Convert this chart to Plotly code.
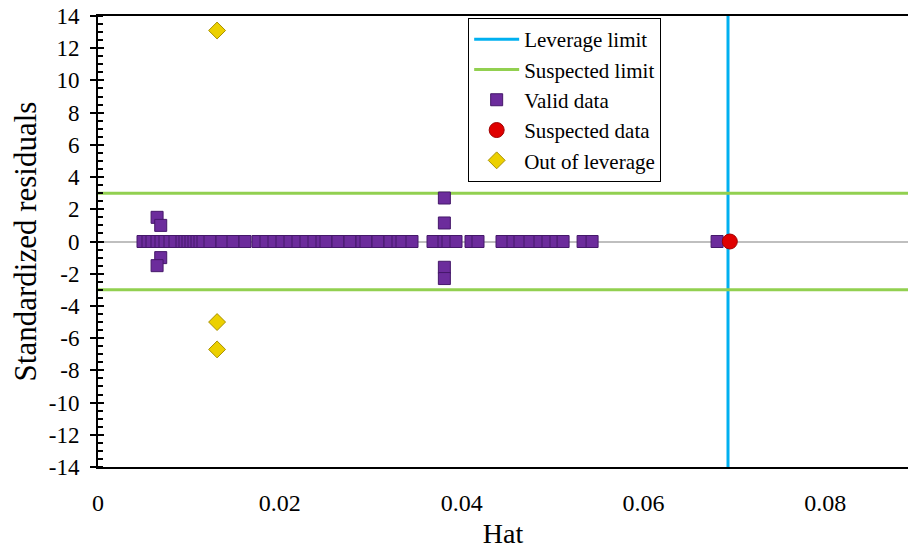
import plotly.graph_objects as go

# ---- data ----
leverage_limit = 0.0693
suspected_limit = 3.0

valid_hat = [0.00495, 0.0055, 0.00594, 0.00649, 0.00693, 0.00737, 0.00792, 0.00847,
             0.00924, 0.00957, 0.0099, 0.01023, 0.01056, 0.01089, 0.01122, 0.01155,
             0.01232, 0.01364, 0.01485, 0.01617, 0.0176, 0.01848, 0.01936, 0.02024,
             0.02112, 0.022, 0.02288, 0.02376, 0.02464, 0.02508, 0.0264, 0.02772,
             0.02904, 0.02948, 0.0308, 0.03212, 0.033, 0.03344, 0.03454, 0.03685,
             0.03806, 0.0385, 0.03938, 0.04103, 0.0418, 0.04444, 0.04565, 0.04642,
             0.04752, 0.04862, 0.0495, 0.05038, 0.05116, 0.05336, 0.05435, 0.0681,
             0.0065, 0.0069, 0.0069, 0.0065, 0.0381, 0.0381, 0.0381, 0.0381]
valid_res = [0.0] * 56 + [1.5, 1.0, -1.0, -1.5, 2.7, 1.15, -1.6, -2.3]

suspected_hat = [0.0695]
suspected_res = [0.0]

out_hat = [0.0131, 0.0131, 0.0131]
out_res = [13.1, -5.0, -6.7]

y_tickvals = [14, 12, 10, 8, 6, 4, 2, 0, -2, -4, -6, -8, -10, -12, -14]
y_ticktext = ["14", "12", "10", "8", "6", "4", "2", "0", "-2", "-4", "-6", "-8", "-10", "-12", "-14"]
x_tickvals = [0, 0.02, 0.04, 0.06, 0.08]
x_ticktext = ["0", "0.02", "0.04", "0.06", "0.08"]

X_MAX = 0.0891
FONT = "Times New Roman"

fig = go.Figure()

fig.add_trace(go.Scatter(
    x=[leverage_limit, leverage_limit], y=[-14, 14], mode="lines",
    line=dict(color="#00b0f0", width=3), name="Leverage limit"))

fig.add_trace(go.Scatter(
    x=[0, X_MAX, None, 0, X_MAX],
    y=[suspected_limit, suspected_limit, None, -suspected_limit, -suspected_limit],
    mode="lines", line=dict(color="#92d050", width=3), name="Suspected limit"))

fig.add_trace(go.Scatter(
    x=valid_hat, y=valid_res, mode="markers", name="Valid data",
    marker=dict(symbol="square", size=12, color="#6c2c9c",
                line=dict(color="#45186a", width=1))))

fig.add_trace(go.Scatter(
    x=suspected_hat, y=suspected_res, mode="markers", name="Suspected data",
    marker=dict(symbol="circle", size=15, color="#e00000",
                line=dict(color="#a00000", width=1))))

fig.add_trace(go.Scatter(
    x=out_hat, y=out_res, mode="markers", name="Out of leverage",
    marker=dict(symbol="diamond", size=13, color="#ecd000",
                line=dict(color="#a89000", width=1))))

fig.update_layout(
    width=908, height=549,
    margin=dict(l=98, r=0, t=16, b=82),
    paper_bgcolor="white", plot_bgcolor="white",
    font=dict(family=FONT, size=22, color="black"),
    showlegend=True,
    legend=dict(x=0.457, y=0.9956, xanchor="left", yanchor="top",
                bordercolor="black", borderwidth=1, bgcolor="white",
                font=dict(family=FONT, size=21, color="black"),
                itemwidth=45, tracegroupgap=0),
    xaxis=dict(range=[0, X_MAX], tickvals=x_tickvals, ticktext=x_ticktext,
               showgrid=False, zeroline=False, showline=True, linecolor="black",
               linewidth=2, mirror=True, ticks="", ticklabelstandoff=13,
               automargin=False,
               tickfont=dict(family=FONT, size=24),
               title=dict(text="Hat", font=dict(family=FONT, size=28), standoff=16)),
    yaxis=dict(range=[-14, 14], tickvals=y_tickvals, ticktext=y_ticktext,
               showgrid=False, zeroline=True, zerolinecolor="#bfbfbf", zerolinewidth=2,
               showline=True, linecolor="black", linewidth=2,
               ticks="outside", ticklen=6, tickwidth=2, tickcolor="black",
               ticklabelstandoff=6, tickfont=dict(family=FONT, size=23),
               automargin=False,
               minor=dict(dtick=0.5, ticks="inside", ticklen=5, tickwidth=1.5,
                          tickcolor="black"),
               title=dict(text="Standardized residuals", font=dict(family=FONT, size=31),
                          standoff=3)),
    yaxis2=dict(range=[-14, 14], overlaying="y", side="left", matches="y",
                tickvals=y_tickvals, showticklabels=False, ticks="inside",
                ticklen=6, tickwidth=2, tickcolor="black", automargin=False,
                showgrid=False, zeroline=False, showline=False),
)

# invisible trace to activate yaxis2 ticks
fig.add_trace(go.Scatter(x=[0], y=[0], yaxis="y2", mode="markers",
                         marker=dict(opacity=0), showlegend=False, hoverinfo="skip"))

fig.write_html("out.html")
